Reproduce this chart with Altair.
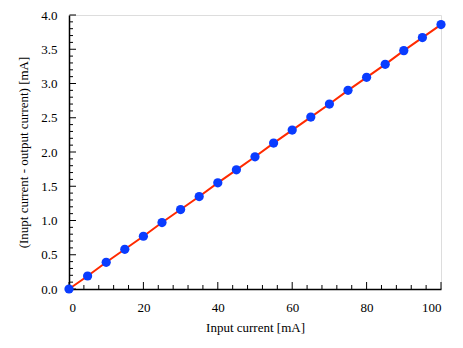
import altair as alt
import pandas as pd

current = [0, 5, 10, 15, 20, 25, 30, 35, 40, 45, 50, 55, 60, 65, 70, 75, 80, 85, 90, 95, 100]
diff = [0.0, 0.19, 0.39, 0.58, 0.77, 0.97, 1.16, 1.35, 1.55, 1.74, 1.93,
        2.13, 2.32, 2.51, 2.70, 2.90, 3.09, 3.28, 3.48, 3.67, 3.86]

x_major = [0, 20, 40, 60, 80, 100]
x_minor = [4, 8, 12, 16, 24, 28, 32, 36, 44, 48, 52, 56, 64, 68, 72, 76, 84, 88, 92, 96]
y_major = [0.0, 0.5, 1.0, 1.5, 2.0, 2.5, 3.0, 3.5, 4.0]
y_minor = [0.1, 0.2, 0.3, 0.4, 0.6, 0.7, 0.8, 0.9, 1.1, 1.2, 1.3, 1.4, 1.6, 1.7, 1.8, 1.9,
           2.1, 2.2, 2.3, 2.4, 2.6, 2.7, 2.8, 2.9, 3.1, 3.2, 3.3, 3.4, 3.6, 3.7, 3.8, 3.9]

W, H = 372, 274
FONT = "Liberation Serif"

df = pd.DataFrame({"current": current, "diff": diff})

xs = alt.Scale(domain=[0, 100], nice=False, zero=False)
ys = alt.Scale(domain=[0, 4], nice=False, zero=False)

xaxis = alt.Axis(values=x_major, format="d", ticks=False, grid=False, labelOverlap=False,
                 domainColor="black", domainWidth=1.5,
                 labelFont=FONT, labelFontSize=13, labelColor="black", labelPadding=12,
                 titleFont=FONT, titleFontSize=13, titleFontWeight="normal", titleColor="black",
                 titlePadding=7)
yaxis = alt.Axis(values=y_major, format=".1f", ticks=False, grid=False, labelOverlap=False,
                 domainColor="black", domainWidth=1.5,
                 labelFont=FONT, labelFontSize=13, labelColor="black", labelPadding=12,
                 titleFont=FONT, titleFontSize=13, titleFontWeight="normal", titleColor="black",
                 titlePadding=10)

X = alt.X("current:Q", scale=xs, axis=xaxis, title="Input current [mA]")
Y = alt.Y("diff:Q", scale=ys, axis=yaxis, title="(Inupt current - output current) [mA]")

line = alt.Chart(df).mark_line(color="#ff2a00", strokeWidth=2).encode(x=X, y=Y)
pts = alt.Chart(df).mark_circle(color="#0a3cff", opacity=1, size=85).encode(x=X, y=Y)

xt = pd.DataFrame({"current": x_minor + x_major,
                   "len": [4] * len(x_minor) + [7] * len(x_major)})
yt = pd.DataFrame({"diff": y_minor + y_major,
                   "len": [4] * len(y_minor) + [7] * len(y_major)})

xticks = alt.Chart(xt).transform_calculate(
    top=f"{H} - datum.len"
).mark_rule(color="black", strokeWidth=1).encode(
    x=X,
    y=alt.Y("top:Q", scale=None),
    y2=alt.value(H),
)

# y ticks: build pixel y from the value via a calculate, mirroring the x-tick approach
yticks = alt.Chart(yt).transform_calculate(
    ypix=f"{H} - datum.diff * {H} / 4",
    xpix="datum.len",
).mark_rule(color="black", strokeWidth=1).encode(
    y=alt.Y("ypix:Q", scale=None, axis=None),
    x=alt.X("xpix:Q", scale=None, axis=None),
    x2=alt.value(0.5),
)

chart = alt.layer(line, xticks, yticks, pts).properties(
    width=W, height=H,
    autosize=alt.AutoSizeParams(type="none"),
    padding={"left": 61, "top": 7, "right": 14, "bottom": 51},
).configure_view(stroke="black", strokeWidth=1).configure(background="white")

chart.save("out.html", embed_options={"renderer": "svg", "actions": False})
